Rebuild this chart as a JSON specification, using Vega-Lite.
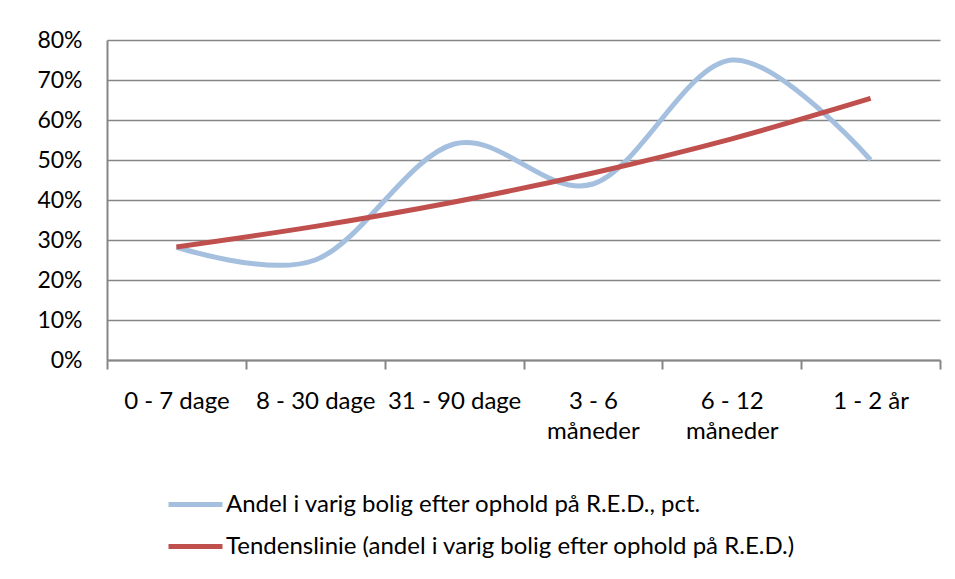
{
  "$schema": "https://vega.github.io/schema/vega-lite/v6.json",
  "autosize": {"type": "none"},
  "width": 833,
  "height": 320,
  "padding": {"left": 107, "top": 40, "right": 15, "bottom": 219},
  "background": "white",
  "config": {
    "view": {"stroke": null},
    "font": "Lato",
    "axis": {"labelFont": "Lato", "labelColor": "#000000", "titleFont": "Lato"},
    "legend": {"labelFont": "Lato"}
  },
  "data": {
    "values": [
      {"periode": "0 - 7 dage", "serie": "Andel i varig bolig efter ophold på R.E.D., pct.", "andel": 0.2825},
      {"periode": "8 - 30 dage", "serie": "Andel i varig bolig efter ophold på R.E.D., pct.", "andel": 0.25},
      {"periode": "31 - 90 dage", "serie": "Andel i varig bolig efter ophold på R.E.D., pct.", "andel": 0.54},
      {"periode": "3 - 6 måneder", "serie": "Andel i varig bolig efter ophold på R.E.D., pct.", "andel": 0.44},
      {"periode": "6 - 12 måneder", "serie": "Andel i varig bolig efter ophold på R.E.D., pct.", "andel": 0.75},
      {"periode": "1 - 2 år", "serie": "Andel i varig bolig efter ophold på R.E.D., pct.", "andel": 0.5},
      {"periode": "0 - 7 dage", "serie": "Tendenslinie (andel i varig bolig efter ophold på R.E.D.)", "andel": 0.2825},
      {"periode": "8 - 30 dage", "serie": "Tendenslinie (andel i varig bolig efter ophold på R.E.D.)", "andel": 0.334},
      {"periode": "31 - 90 dage", "serie": "Tendenslinie (andel i varig bolig efter ophold på R.E.D.)", "andel": 0.395},
      {"periode": "3 - 6 måneder", "serie": "Tendenslinie (andel i varig bolig efter ophold på R.E.D.)", "andel": 0.4675},
      {"periode": "6 - 12 måneder", "serie": "Tendenslinie (andel i varig bolig efter ophold på R.E.D.)", "andel": 0.553},
      {"periode": "1 - 2 år", "serie": "Tendenslinie (andel i varig bolig efter ophold på R.E.D.)", "andel": 0.654}
    ]
  },
  "encoding": {
    "x": {
      "field": "periode",
      "type": "nominal",
      "sort": null,
      "scale": {"type": "band", "paddingInner": 0, "paddingOuter": 0},
      "axis": {
        "title": null,
        "labelAngle": 0,
        "labelFontSize": 24,
        "labelPadding": 20,
        "labelLineHeight": 30,
        "labelExpr": "indexof(datum.label, ' måneder') > 0 ? [replace(datum.label, ' måneder', ''), 'måneder'] : datum.label",
        "tickBand": "extent",
        "tickSize": 9,
        "tickColor": "#868686",
        "tickWidth": 2,
        "domainColor": "#868686",
        "domainWidth": 2,
        "grid": false
      }
    },
    "y": {
      "field": "andel",
      "type": "quantitative",
      "scale": {"domain": [0, 0.8], "nice": false},
      "axis": {
        "title": null,
        "values": [0, 0.1, 0.2, 0.3, 0.4, 0.5, 0.6, 0.7, 0.8],
        "format": ".0%",
        "ticks": false,
        "labelFontSize": 23,
        "labelPadding": 25,
        "grid": true,
        "gridColor": "#868686",
        "gridWidth": 1.3,
        "domainColor": "#868686",
        "domainWidth": 2
      }
    }
  },
  "layer": [
    {
      "transform": [{"filter": "datum.serie == 'Andel i varig bolig efter ophold på R.E.D., pct.'"}],
      "mark": {"type": "line", "interpolate": "cardinal", "strokeWidth": 5, "color": "#A5BFDF"},
      "encoding": {
        "color": {
          "field": "serie",
          "type": "nominal",
          "scale": {
            "domain": ["Andel i varig bolig efter ophold på R.E.D., pct.", "Tendenslinie (andel i varig bolig efter ophold på R.E.D.)"],
            "range": ["#A5BFDF", "#C0504D"]
          },
          "legend": {
            "title": null,
            "orient": "none",
            "direction": "vertical",
            "legendX": 59,
            "legendY": 435,
            "symbolType": "stroke",
            "symbolSize": 2916,
            "symbolStrokeWidth": 5,
            "labelFontSize": 24,
            "labelColor": "#000000",
            "labelOffset": 1,
            "rowPadding": -6,
            "labelLimit": 800
          }
        }
      }
    },
    {
      "transform": [{"filter": "datum.serie == 'Tendenslinie (andel i varig bolig efter ophold på R.E.D.)'"}],
      "mark": {"type": "line", "interpolate": "monotone", "strokeWidth": 5},
      "encoding": {
        "color": {"field": "serie", "type": "nominal"}
      }
    }
  ]
}
